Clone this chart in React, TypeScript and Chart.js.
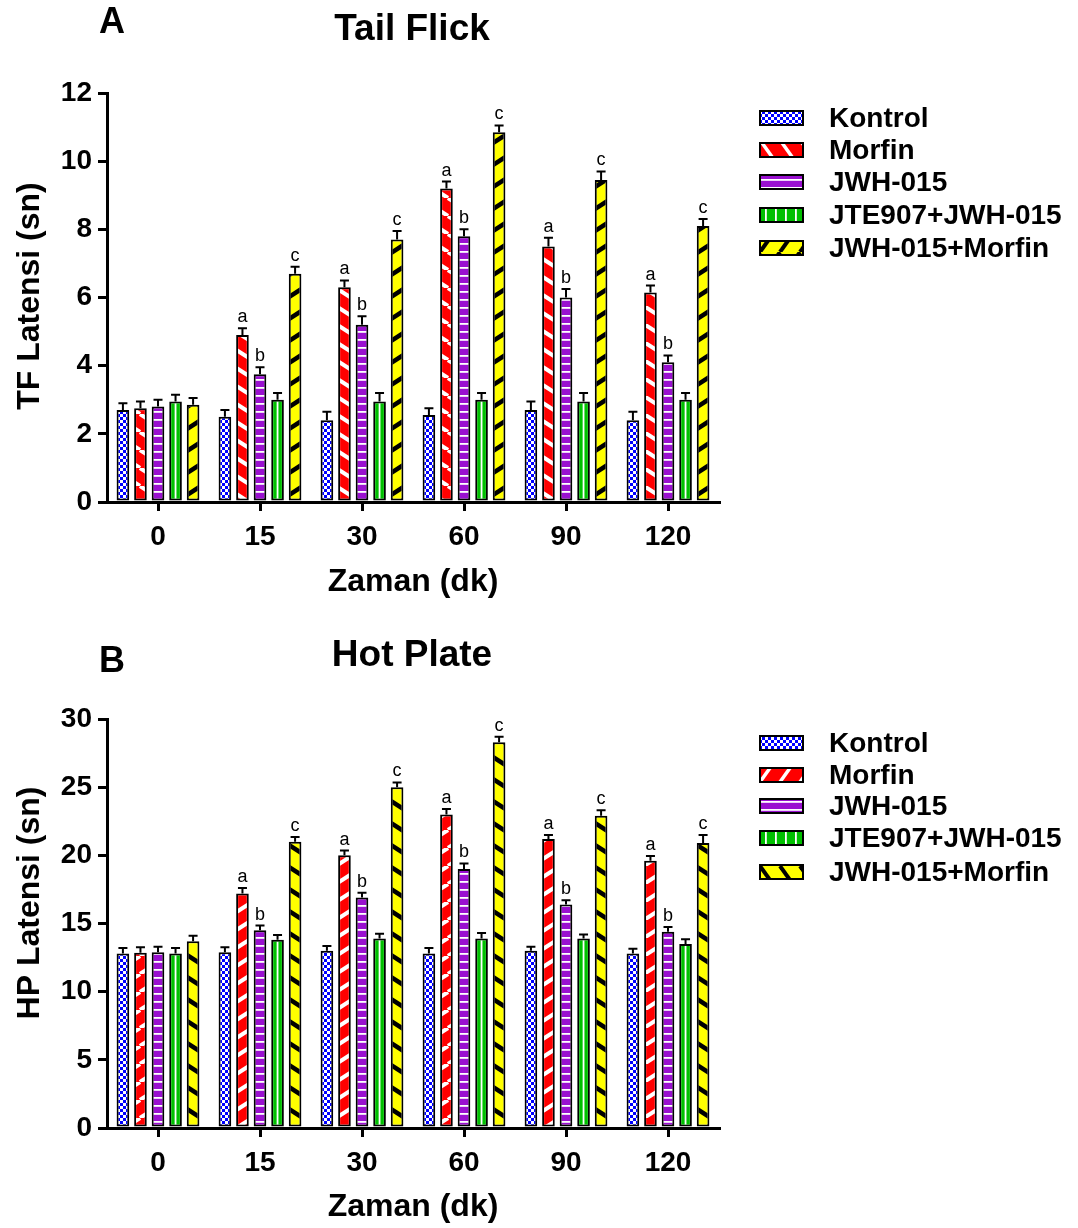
import React, { useEffect, useRef } from 'react';
import { Chart, registerables } from 'chart.js';
Chart.register(...registerables);

// ---------- DATA ----------
const categories = ['0', '15', '30', '60', '90', '120'];
const seriesNames = ['Kontrol', 'Morfin', 'JWH-015', 'JTE907+JWH-015', 'JWH-015+Morfin'];

// Tail Flick (TF Latensi, sn)
const tfKontrol = [2.7, 2.5, 2.4, 2.55, 2.7, 2.4];
const tfMorfin = [2.75, 4.9, 6.3, 9.2, 7.5, 6.15];
const tfJwh = [2.8, 3.75, 5.2, 7.8, 6.0, 4.1];
const tfJte = [2.95, 3.0, 2.95, 3.0, 2.95, 3.0];
const tfCombo = [2.85, 6.7, 7.7, 10.85, 9.45, 8.1];
const tfKontrolErr = [0.2, 0.2, 0.25, 0.2, 0.25, 0.25];
const tfMorfinErr = [0.2, 0.2, 0.2, 0.2, 0.25, 0.2];
const tfJwhErr = [0.2, 0.2, 0.25, 0.2, 0.25, 0.2];
const tfJteErr = [0.2, 0.2, 0.25, 0.2, 0.25, 0.2];
const tfComboErr = [0.2, 0.2, 0.25, 0.2, 0.25, 0.2];

// Hot Plate (HP Latensi, sn)
const hpKontrol = [12.8, 12.9, 13.0, 12.8, 13.0, 12.8];
const hpMorfin = [12.85, 17.2, 20.0, 23.0, 21.2, 19.6];
const hpJwh = [12.9, 14.5, 16.9, 19.0, 16.4, 14.4];
const hpJte = [12.8, 13.8, 13.9, 13.9, 13.9, 13.5];
const hpCombo = [13.7, 21.0, 25.0, 28.3, 22.9, 20.9];
const hpKontrolErr = [0.4, 0.35, 0.35, 0.4, 0.3, 0.35];
const hpMorfinErr = [0.4, 0.4, 0.35, 0.4, 0.3, 0.35];
const hpJwhErr = [0.4, 0.35, 0.35, 0.4, 0.3, 0.35];
const hpJteErr = [0.4, 0.35, 0.35, 0.4, 0.3, 0.35];
const hpComboErr = [0.4, 0.35, 0.35, 0.4, 0.4, 0.6];

// significance letters
const morfinLetters = ['', 'a', 'a', 'a', 'a', 'a'];
const jwhLetters = ['', 'b', 'b', 'b', 'b', 'b'];
const comboLetters = ['', 'c', 'c', 'c', 'c', 'c'];
const noLetters = ['', '', '', '', '', ''];

const tfTicks = [0, 2, 4, 6, 8, 10, 12];
const hpTicks = [0, 5, 10, 15, 20, 25, 30];

const FONT = '"Liberation Sans", Arial, sans-serif';

// ---------- PATTERNS ----------
function tile(w: number, h: number, draw: (c: CanvasRenderingContext2D) => void) {
  const cv = document.createElement('canvas');
  cv.width = w;
  cv.height = h;
  const c = cv.getContext('2d')!;
  draw(c);
  return c.createPattern(cv, 'repeat')!;
}
function checker() {
  return tile(6, 6, (c) => {
    c.fillStyle = '#0000ff';
    c.fillRect(0, 0, 6, 6);
    c.fillStyle = '#ffffff';
    c.fillRect(0, 0, 3, 3);
    c.fillRect(3, 3, 3, 3);
  });
}
// seamless diagonal stripes: one stripe per tile, running corner to corner
function diag(bg: string, fg: string, w: number, h: number, lw: number, dir: '/' | '\\') {
  return tile(w, h, (c) => {
    c.fillStyle = bg;
    c.fillRect(0, 0, w, h);
    c.strokeStyle = fg;
    c.lineWidth = lw;
    for (const o of [-w, 0, w]) {
      c.beginPath();
      if (dir === '/') {
        c.moveTo(o, h);
        c.lineTo(o + w, 0);
      } else {
        c.moveTo(o, 0);
        c.lineTo(o + w, h);
      }
      c.stroke();
    }
  });
}
function hlines() {
  return tile(8, 8, (c) => {
    c.fillStyle = '#9a10d0';
    c.fillRect(0, 0, 8, 8);
    c.fillStyle = '#ffffff';
    c.fillRect(0, 3, 8, 1.8);
  });
}
function vlines() {
  return tile(10, 10, (c) => {
    c.fillStyle = '#00c000';
    c.fillRect(0, 0, 10, 10);
    c.fillStyle = '#ffffff';
    c.fillRect(5, 0, 1.8, 10);
  });
}

type PanelProps = {
  top: number;
  height: number;
  letter: string;
  title: string;
  yTitle: string;
  values: number[][];
  errors: number[][];
  letters: string[][];
  yMax: number;
  yStep: number;
  yTicks: number[];
  morfinDir: '/' | '\\';
  comboDir: '/' | '\\';
  plotTop: number;
  xHeight: number;
  xTitlePad: number;
  legendY: number[];
  letterY: number;
  titleY: number;
  yTitleY: number;
};

function Panel(p: PanelProps) {
  const ref = useRef<HTMLCanvasElement>(null);
  useEffect(() => {
    const canvas = ref.current!;
    const green = '#00c000';
    const patterns: any[] = [
      checker(),
      diag('#ff0000', '#ffffff', 28, 18, 4, p.morfinDir),
      hlines(),
      green,
      diag('#ffff00', '#000000', 34, 22, 4.5, p.comboDir),
    ];
    const legendPatterns: any[] = [
      patterns[0],
      diag('#ff0000', '#ffffff', 20, 28, 3.5, p.morfinDir),
      patterns[2],
      vlines(),
      diag('#ffff00', '#000000', 20, 28, 4, p.comboDir),
    ];
    const overlay = {
      id: 'overlay',
      afterDatasetsDraw(chart: any) {
        const ctx = chart.ctx as CanvasRenderingContext2D;
        const y = chart.scales.y;
        ctx.save();
        // white centre line in the green bars
        const gm = chart.getDatasetMeta(3);
        gm.data.forEach((bar: any) => {
          ctx.fillStyle = '#ffffff';
          ctx.fillRect(bar.x - 0.9, bar.y + 2, 1.8, bar.base - bar.y - 4);
        });
        chart.data.datasets.forEach((ds: any, i: number) => {
          const meta = chart.getDatasetMeta(i);
          meta.data.forEach((bar: any, j: number) => {
            const v = ds.data[j];
            const e = p.errors[i][j];
            const yTop = y.getPixelForValue(v + e);
            ctx.strokeStyle = '#000';
            ctx.lineWidth = 2;
            ctx.beginPath();
            ctx.moveTo(bar.x, bar.y);
            ctx.lineTo(bar.x, yTop);
            ctx.moveTo(bar.x - 4.5, yTop);
            ctx.lineTo(bar.x + 4.5, yTop);
            ctx.stroke();
            const l = p.letters[i][j];
            if (l) {
              ctx.fillStyle = '#000';
              ctx.font = `18px ${FONT}`;
              ctx.textAlign = 'center';
              ctx.textBaseline = 'bottom';
              ctx.fillText(l, bar.x, yTop - 2);
            }
          });
        });
        ctx.restore();
      },
      afterDraw(chart: any) {
        const ctx = chart.ctx as CanvasRenderingContext2D;
        ctx.save();
        ctx.fillStyle = '#000';
        ctx.textBaseline = 'middle';
        ctx.textAlign = 'center';
        ctx.font = `bold 36px ${FONT}`;
        ctx.fillText(p.letter, 112, p.letterY);
        ctx.font = `bold 37px ${FONT}`;
        ctx.fillText(p.title, 412, p.titleY);
        // y axis title
        ctx.save();
        ctx.translate(30, p.yTitleY);
        ctx.rotate(-Math.PI / 2);
        ctx.font = `bold 32px ${FONT}`;
        ctx.fillText(p.yTitle, 0, 0);
        ctx.restore();
        // legend
        ctx.textAlign = 'left';
        ctx.font = `bold 28px ${FONT}`;
        seriesNames.forEach((name, i) => {
          const cy = p.legendY[i];
          ctx.fillStyle = legendPatterns[i];
          ctx.fillRect(760, cy - 7, 43, 14);
          ctx.strokeStyle = '#000';
          ctx.lineWidth = 2;
          ctx.strokeRect(760, cy - 7, 43, 14);
          ctx.fillStyle = '#000';
          ctx.fillText(name, 829, cy + 1);
        });
        ctx.restore();
      },
    };
    const chart = new Chart(canvas, {
      type: 'bar',
      data: {
        labels: categories,
        datasets: seriesNames.map((n, i) => ({
          label: n,
          data: p.values[i],
          backgroundColor: patterns[i],
          borderColor: '#000',
          borderWidth: 2,
          borderSkipped: false,
          categoryPercentage: 0.86,
          barPercentage: 0.72,
        })),
      },
      options: {
        animation: false,
        responsive: false,
        devicePixelRatio: 1,
        layout: { padding: { top: p.plotTop, right: 359, left: 0, bottom: 0 } },
        plugins: { legend: { display: false }, tooltip: { enabled: false }, title: { display: false } },
        scales: {
          x: {
            offset: true,
            grid: { display: true, drawOnChartArea: false, offset: false, drawTicks: true, tickLength: 9, lineWidth: 3, color: '#000' },
            border: { display: true, width: 3, color: '#000' },
            ticks: { color: '#000', font: { family: FONT, size: 28, weight: 'bold' }, padding: 9 },
            title: { display: true, text: 'Zaman (dk)', color: '#000', font: { family: FONT, size: 32, weight: 'bold' }, padding: { top: 0, bottom: p.xTitlePad } },
            afterFit: (s: any) => { s.height = p.xHeight; },
          },
          y: {
            min: 0,
            max: p.yMax,
            afterBuildTicks: (s: any) => { s.ticks = p.yTicks.map((v) => ({ value: v })); },
            grid: { display: true, drawOnChartArea: false, drawTicks: true, tickLength: 9, lineWidth: 3, color: '#000' },
            border: { display: true, width: 3, color: '#000' },
            ticks: { color: '#000', font: { family: FONT, size: 28, weight: 'bold' }, padding: 6, stepSize: p.yStep },
            title: { display: false },
            afterFit: (s: any) => { s.width = 107; },
          },
        },
      },
      plugins: [overlay],
    });
    return () => chart.destroy();
  }, []);
  return (
    <canvas
      ref={ref}
      width={1078}
      height={p.height}
      style={{ position: 'absolute', left: 0, top: p.top, width: 1078, height: p.height }}
    />
  );
}

export default function App() {
  return (
    <div style={{ position: 'absolute', left: 0, top: 0, width: 1078, height: 1228, background: '#fff' }}>
      <Panel
        top={0}
        height={614}
        letter="A"
        title="Tail Flick"
        yTitle="TF Latensi (sn)"
        values={[tfKontrol, tfMorfin, tfJwh, tfJte, tfCombo]}
        errors={[tfKontrolErr, tfMorfinErr, tfJwhErr, tfJteErr, tfComboErr]}
        letters={[noLetters, morfinLetters, jwhLetters, noLetters, comboLetters]}
        yMax={12}
        yStep={2}
        yTicks={tfTicks}
        morfinDir="\\"
        comboDir="/"
        plotTop={93}
        xHeight={112}
        xTitlePad={13}
        legendY={[118, 150, 182, 215, 248]}
        letterY={23}
        titleY={30}
        yTitleY={296}
      />
      <Panel
        top={614}
        height={614}
        letter="B"
        title="Hot Plate"
        yTitle="HP Latensi (sn)"
        values={[hpKontrol, hpMorfin, hpJwh, hpJte, hpCombo]}
        errors={[hpKontrolErr, hpMorfinErr, hpJwhErr, hpJteErr, hpComboErr]}
        letters={[noLetters, morfinLetters, jwhLetters, noLetters, comboLetters]}
        yMax={30}
        yStep={5}
        yTicks={hpTicks}
        morfinDir="/"
        comboDir="\\"
        plotTop={105}
        xHeight={100}
        xTitlePad={2}
        legendY={[129, 161, 192, 224, 258]}
        letterY={48}
        titleY={42}
        yTitleY={289}
      />
    </div>
  );
}
